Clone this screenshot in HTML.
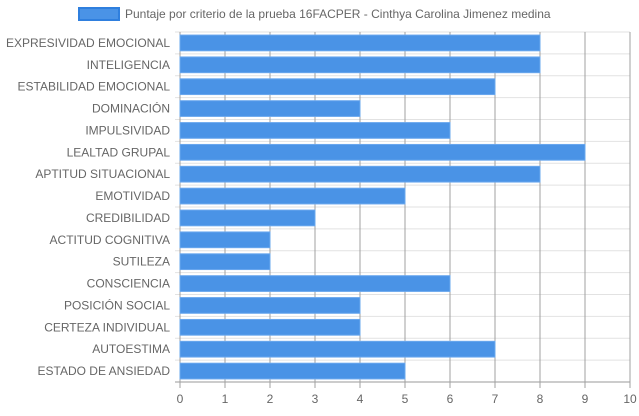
<!DOCTYPE html>
<html><head><meta charset="utf-8"><style>
body{margin:0;background:#fff;font-family:"Liberation Sans",Arial,sans-serif;}
</style></head><body>
<svg id="chart" width="639" height="411" xmlns="http://www.w3.org/2000/svg" font-family="Liberation Sans, Arial, sans-serif">
<g>
<rect x="79" y="8" width="40" height="12" fill="#4a93e6" stroke="#2f7fde" stroke-width="2"/>
<text x="125" y="18" font-size="12" fill="#666">Puntaje por criterio de la prueba 16FACPER - Cinthya Carolina Jimenez medina</text>
</g>
<g id="grid"></g><g id="bars"></g><g id="labels"></g><g id="ticks"></g>
</svg>
<script>
const categories=["EXPRESIVIDAD EMOCIONAL","INTELIGENCIA","ESTABILIDAD EMOCIONAL","DOMINACIÓN","IMPULSIVIDAD","LEALTAD GRUPAL","APTITUD SITUACIONAL","EMOTIVIDAD","CREDIBILIDAD","ACTITUD COGNITIVA","SUTILEZA","CONSCIENCIA","POSICIÓN SOCIAL","CERTEZA INDIVIDUAL","AUTOESTIMA","ESTADO DE ANSIEDAD"];
const values=[8,8,7,4,6,9,8,5,3,2,2,6,4,4,7,5];
const tickLabels=[0,1,2,3,4,5,6,7,8,9,10];
const NS="http://www.w3.org/2000/svg";
const L=180,R=630,T=32,B=382;
const x=v=>L+(v-0)/(10-0)*(R-L);
const band=(B-T)/categories.length;
const y=i=>T+i*band;
function mk(tag,attrs,parent){const e=document.createElementNS(NS,tag);for(const k in attrs)e.setAttribute(k,attrs[k]);document.getElementById(parent).appendChild(e);return e;}
for(let i=0;i<=categories.length;i++){
 const l=mk('line',{x1:L-5,x2:R,y1:y(i),y2:y(i),stroke:i==categories.length?'#999':'#e2e2e2','stroke-width':1},'grid');
 
 
}
tickLabels.forEach(t=>{
 const l=mk('line',{x1:x(t),x2:x(t),y1:T,y2:B+6,stroke:'#a0a0a0','stroke-width':1},'grid');
 
 
 const tx=mk('text',{x:x(t),y:B+21,'text-anchor':'middle','font-size':12,fill:'#666'},'ticks');
 tx.textContent=t;
 
 
});
categories.forEach((c,i)=>{
 const bh=band*0.72;
 const r=mk('rect',{x:x(0),y:y(i)+(band-bh)/2,width:x(values[i])-x(0),height:bh,fill:'#4a93e6',stroke:'#6aa8ee','stroke-width':1},'bars');
 
 
 const tx=mk('text',{x:L-10,y:y(i)+band/2+4,'text-anchor':'end','font-size':12,fill:'#666'},'labels');
 tx.textContent=c;
 
 
});
</script>
</body></html>
